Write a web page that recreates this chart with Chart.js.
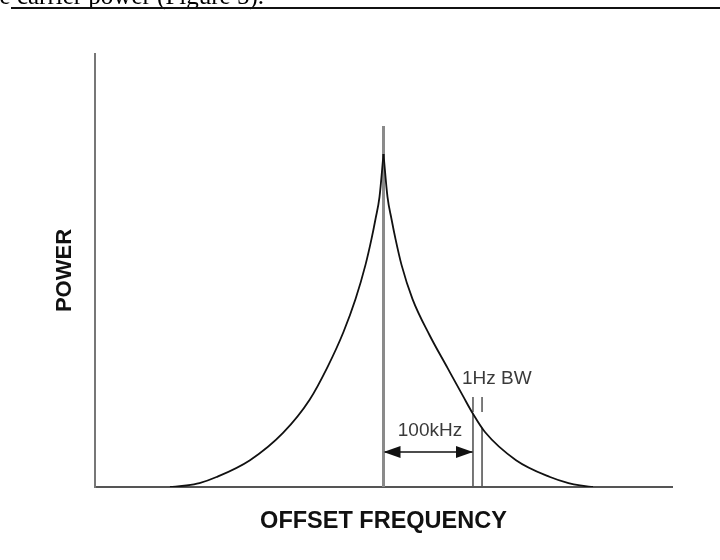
<!DOCTYPE html>
<html><head><meta charset="utf-8">
<script src="https://cdn.jsdelivr.net/npm/chart.js@4/dist/chart.umd.min.js"></script>
<style>html,body{margin:0;padding:0;background:#fff}canvas{display:block}</style>
</head><body>
<canvas id="c" width="720" height="560"></canvas>
<script>
// ---- data (offset frequency in kHz, power in relative units 0..100) ----
const carrierOffset = [0, 0];
const carrierPower = [0, 83.4];

const noiseLeftOffset = [-240.5, -221.9, -207.3, -188.1, -150.4, -113.2, -83.4, -63.1, -45.1, -31.5, -20.3, -13.5, -9.0, -4.5, 0];
const noiseLeftPower  = [0, 0.35, 0.9, 2.3, 6.2, 12.5, 20.1, 27.7, 35.8, 43.4, 51.3, 57.3, 61.9, 67.0, 76.9];

const noiseRightOffset = [0, 4.5, 9.0, 13.5, 20.3, 32.7, 51.8, 72.1, 90.1, 100.8, 114.3, 149.3, 187.6, 208.4, 221.4, 236.0];
const noiseRightPower  = [76.9, 67.0, 61.9, 57.3, 51.3, 43.4, 35.1, 27.5, 20.8, 16.9, 12.7, 6.2, 2.3, 0.9, 0.35, 0];

const bwEdgeOffset = [100.8, 111.0];
const bwEdgePower = [16.9, 13.7];
const bwMarkerPower = [17.3, 20.8];

const spacingOffset = [0, 100.8];
const spacingPower = [8.1, 8.1];

const xTitle = 'OFFSET FREQUENCY';
const yTitle = 'POWER';
const spacingLabel = '100kHz';
const bwLabel = '1Hz BW';
const headerText = 'relative to the carrier power (Figure 5).';

// ---- helpers ----
const pts = (xs, ys) => xs.map((x, i) => ({x, y: ys[i]}));
const vline = (x, y0, y1) => [{x, y: y0}, {x, y: y1}];

const lineDs = (data, color, width, extra) => Object.assign({
  data, borderColor: color, borderWidth: width, pointRadius: 0, fill: false, tension: 0
}, extra || {});

const datasets = [
  lineDs(pts(noiseLeftOffset, noiseLeftPower), '#111', 1.8, {cubicInterpolationMode: 'monotone'}),
  lineDs(pts(noiseRightOffset, noiseRightPower), '#111', 1.8, {cubicInterpolationMode: 'monotone'}),
  lineDs(pts(carrierOffset, carrierPower), '#8a8a8a', 3),
  lineDs(vline(bwEdgeOffset[0], 0, bwEdgePower[0]), '#555', 1.6),
  lineDs(vline(bwEdgeOffset[1], 0, bwEdgePower[1]), '#555', 1.6),
  lineDs(vline(bwEdgeOffset[0], bwMarkerPower[0], bwMarkerPower[1]), '#444', 1.4),
  lineDs(vline(bwEdgeOffset[1], bwMarkerPower[0], bwMarkerPower[1]), '#444', 1.4),
  lineDs(pts(spacingOffset, spacingPower), '#111', 1.6, {isArrow: true})
];

const arrowPlugin = {
  id: 'arrowHeads',
  afterDatasetsDraw(chart) {
    const ctx = chart.ctx;
    chart.data.datasets.forEach((ds, i) => {
      if (!ds.isArrow) return;
      const meta = chart.getDatasetMeta(i);
      const a = meta.data[0], b = meta.data[meta.data.length - 1];
      const head = (tip, from) => {
        const ang = Math.atan2(tip.y - from.y, tip.x - from.x);
        const L = 17, W = 6;
        ctx.save();
        ctx.fillStyle = '#111';
        ctx.beginPath();
        ctx.moveTo(tip.x, tip.y);
        ctx.lineTo(tip.x - L * Math.cos(ang) + W * Math.sin(ang), tip.y - L * Math.sin(ang) - W * Math.cos(ang));
        ctx.lineTo(tip.x - L * Math.cos(ang) - W * Math.sin(ang), tip.y - L * Math.sin(ang) + W * Math.cos(ang));
        ctx.closePath();
        ctx.fill();
        ctx.restore();
      };
      head(b, a);
      head(a, b);
    });
  }
};

const textPlugin = {
  id: 'annotText',
  afterDraw(chart) {
    const {ctx, scales: {x, y}} = chart;
    ctx.save();
    ctx.fillStyle = '#3a3a3a';
    ctx.font = '19px "Liberation Sans", Arial, sans-serif';
    ctx.textBaseline = 'middle';
    ctx.textAlign = 'center';
    ctx.fillText(spacingLabel, x.getPixelForValue(52.4), y.getPixelForValue(12.9));
    ctx.textAlign = 'left';
    ctx.fillText(bwLabel, x.getPixelForValue(88.4), y.getPixelForValue(24.9));
    // page header fragment above the figure
    ctx.fillStyle = '#000';
    ctx.font = '25px "Liberation Serif", "Times New Roman", serif';
    ctx.textAlign = 'right';
    ctx.textBaseline = 'alphabetic';
    ctx.fillText(headerText, 264, 4);
    ctx.fillStyle = '#111';
    ctx.fillRect(11, 7, 709, 2);
    ctx.restore();
  }
};

new Chart(document.getElementById('c'), {
  type: 'line',
  data: {datasets},
  options: {
    responsive: false,
    devicePixelRatio: 1,
    animation: false,
    layout: {padding: {top: 54, right: 48, left: 0, bottom: 0}},
    plugins: {legend: {display: false}, tooltip: {enabled: false}, title: {display: false}},
    scales: {
      x: {
        type: 'linear', min: -325, max: 325,
        ticks: {display: false},
        grid: {display: false},
        border: {display: true, color: '#555', width: 2},
        title: {display: true, text: xTitle, color: '#111',
          font: {family: '"Liberation Sans", Arial, sans-serif', size: 23.5, weight: 'bold'},
          padding: {top: 0, bottom: 24}},
        afterFit(s) { s.height = 73; }
      },
      y: {
        type: 'linear', min: 0, max: 100,
        ticks: {display: false},
        grid: {display: false},
        border: {display: true, color: '#777', width: 2},
        title: {display: true, text: yTitle, color: '#111',
          font: {family: '"Liberation Sans", Arial, sans-serif', size: 22, weight: 'bold'},
          padding: {top: 52, bottom: 0}},
        afterFit(s) { s.width = 95; }
      }
    }
  },
  plugins: [arrowPlugin, textPlugin]
});
</script>
</body></html>
